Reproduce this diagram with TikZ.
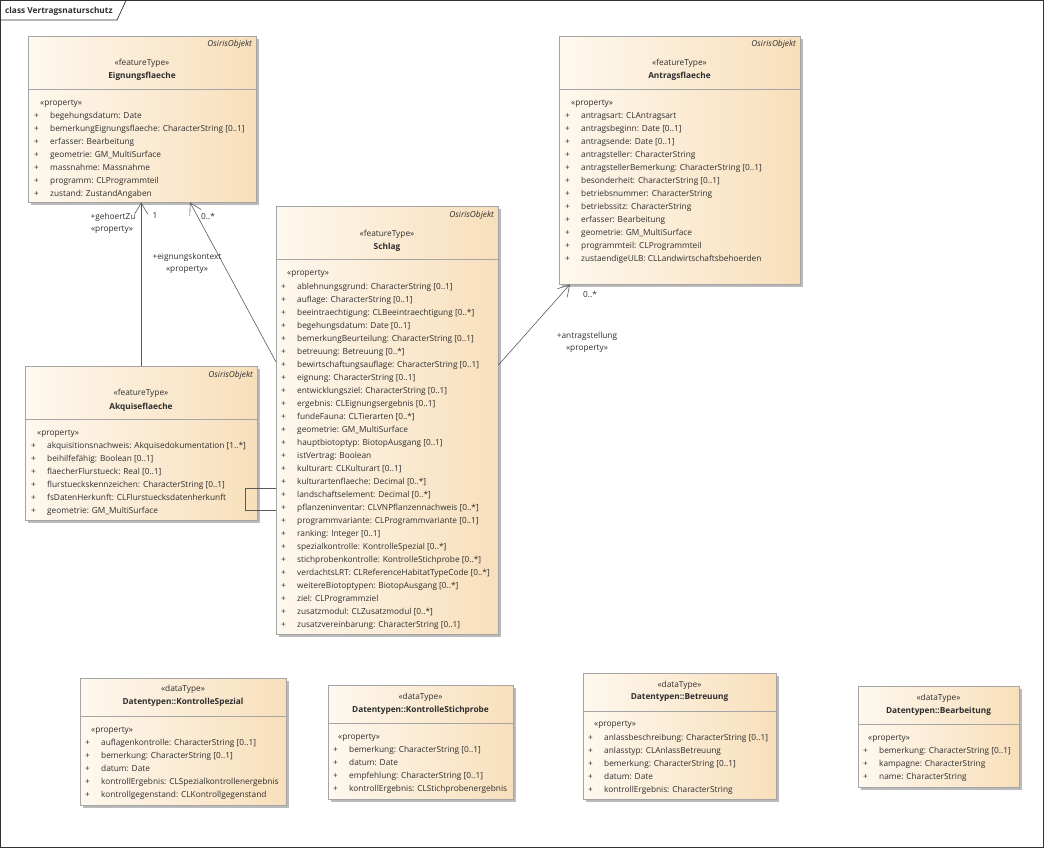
\documentclass[tikz,border=0pt]{standalone}
\usepackage{fontspec}
\setmainfont{Open Sans}
\usetikzlibrary{arrows.meta,shadows}

\definecolor{boxleft}{RGB}{254,248,238}
\definecolor{boxright}{RGB}{248,223,187}
\definecolor{boxline}{RGB}{165,165,165}
\definecolor{ink}{RGB}{45,45,45}

\newcommand{\umlfont}{\fontsize{8.3}{10}\selectfont}

% one row per property: #1 name prefix, #2 x of text, #3 y of first row, #4 rows
\newcommand{\proprows}[4]{%
  \foreach \ptext [count=\prow from 0] in {#4} {
    \node[plus] (#1-p\prow) at (#2-16, #3+13*\prow+3) {+};
    \node[attr] (#1-r\prow) at (#2, #3+13*\prow+3) {\ptext};
  }}

\tikzset{
  classbox/.style={draw=boxline, anchor=north west, inner sep=0pt,
    left color=boxleft, right color=boxright,
    drop shadow={shadow xshift=3pt, shadow yshift=-3pt, fill=black!45, opacity=0.6}},
  divider/.style={draw=boxline},
  attr/.style={anchor=base west, inner sep=0pt, font=\umlfont, text=ink},
  plus/.style={attr},
  stereo/.style={inner sep=0pt, font=\umlfont, text=ink},
  cname/.style={inner sep=0pt, font=\umlfont\bfseries, text=ink},
  osiris/.style={anchor=east, inner sep=0pt, font=\umlfont\itshape, text=ink},
  role/.style={inner sep=0pt, font=\umlfont, text=ink},
  assoc/.style={draw=black!65, line width=0.6pt},
  navig/.style={assoc, -{Straight Barb[length=11pt, width=13pt, line width=0.6pt]}},
}

\begin{document}
\begin{tikzpicture}[x=1pt, y=-1pt]
\useasboundingbox (0,0) rectangle (1045,849);

% frame
\draw[black!80, line width=0.7pt] (0.5,0.5) rectangle (1043.5,847.5);
\draw[black!80, line width=0.7pt] (0.5,20) -- (117,20) -- (126,0.5);
\node[cname, anchor=west] (title) at (5,11) {class Vertragsnaturschutz};

% Eignungsflaeche
\node[classbox, minimum width=228, minimum height=166] (eign) at (28,36) {};
\draw[divider] (28,89) -- (256,89);
\node[osiris] (eign-os) at (252,44) {OsirisObjekt};
\node[stereo] (eign-st) at (142,63) {«featureType»};
\node[cname] (eign-nm) at (142,76) {Eignungsflaeche};
\node[attr] (eign-pr) at (40,105.5) {«property»};
\proprows{eign}{50}{115.5}{begehungsdatum: Date,
  bemerkungEignungsflaeche: CharacterString [0..1],
  erfasser: Bearbeitung, geometrie: GM\_MultiSurface,
  massnahme: Massnahme, programm: CLProgrammteil,
  zustand: ZustandAngaben}

% Akquiseflaeche
\node[classbox, minimum width=232, minimum height=154] (akq) at (25,366) {};
\draw[divider] (25,419) -- (257,419);
\node[osiris] (akq-os) at (253,375) {OsirisObjekt};
\node[stereo] (akq-st) at (141,393) {«featureType»};
\node[cname] (akq-nm) at (141,407) {Akquiseflaeche};
\node[attr] (akq-pr) at (37,435) {«property»};
\proprows{akq}{47}{445}{akquisitionsnachweis: Akquisedokumentation [1..*],
  beihilfefähig: Boolean [0..1], flaecherFlurstueck: Real [0..1],
  flurstueckskennzeichen: CharacterString [0..1],
  fsDatenHerkunft: CLFlurstuecksdatenherkunft,
  geometrie: GM\_MultiSurface}

% Schlag
\node[classbox, minimum width=222, minimum height=428] (schlag) at (276,206) {};
\draw[divider] (276,259) -- (498,259);
\node[osiris] (schlag-os) at (494,215) {OsirisObjekt};
\node[stereo] (schlag-st) at (387,234) {«featureType»};
\node[cname] (schlag-nm) at (387,247) {Schlag};
\node[attr] (schlag-pr) at (287,275) {«property»};
\proprows{schlag}{297}{286}{ablehnungsgrund: CharacterString [0..1],
  auflage: CharacterString [0..1],
  beeintraechtigung: CLBeeintraechtigung [0..*],
  begehungsdatum: Date [0..1],
  bemerkungBeurteilung: CharacterString [0..1],
  betreuung: Betreuung [0..*],
  bewirtschaftungsauflage: CharacterString [0..1],
  eignung: CharacterString [0..1],
  entwicklungsziel: CharacterString [0..1],
  ergebnis: CLEignungsergebnis [0..1],
  fundeFauna: CLTierarten [0..*],
  geometrie: GM\_MultiSurface,
  hauptbiotoptyp: BiotopAusgang [0..1],
  istVertrag: Boolean,
  kulturart: CLKulturart [0..1],
  kulturartenflaeche: Decimal [0..*],
  landschaftselement: Decimal [0..*],
  pflanzeninventar: CLVNPflanzennachweis [0..*],
  programmvariante: CLProgrammvariante [0..1],
  ranking: Integer [0..1],
  spezialkontrolle: KontrolleSpezial [0..*],
  stichprobenkontrolle: KontrolleStichprobe [0..*],
  verdachtsLRT: CLReferenceHabitatTypeCode [0..*],
  weitereBiotoptypen: BiotopAusgang [0..*],
  ziel: CLProgrammziel,
  zusatzmodul: CLZusatzmodul [0..*],
  zusatzvereinbarung: CharacterString [0..1]}

% Antragsflaeche
\node[classbox, minimum width=241, minimum height=248] (antrag) at (559,36) {};
\draw[divider] (559,89) -- (800,89);
\node[osiris] (antrag-os) at (796,44) {OsirisObjekt};
\node[stereo] (antrag-st) at (679.5,63) {«featureType»};
\node[cname] (antrag-nm) at (679.5,76) {Antragsflaeche};
\node[attr] (antrag-pr) at (571,105) {«property»};
\proprows{antrag}{581}{115}{antragsart: CLAntragsart,
  antragsbeginn: Date [0..1], antragsende: Date [0..1],
  antragsteller: CharacterString,
  antragstellerBemerkung: CharacterString [0..1],
  besonderheit: CharacterString [0..1],
  betriebsnummer: CharacterString, betriebssitz: CharacterString,
  erfasser: Bearbeitung, geometrie: GM\_MultiSurface,
  programmteil: CLProgrammteil,
  zustaendigeULB: CLLandwirtschaftsbehoerden}

% Datentypen::KontrolleSpezial
\node[classbox, minimum width=206, minimum height=127] (spez) at (80,678) {};
\draw[divider] (80,716) -- (286,716);
\node[stereo] (spez-st) at (183,689) {«dataType»};
\node[cname] (spez-nm) at (183,702) {Datentypen::KontrolleSpezial};
\node[attr] (spez-pr) at (91,732) {«property»};
\proprows{spez}{101}{742}{auflagenkontrolle: CharacterString [0..1],
  bemerkung: CharacterString [0..1], datum: Date,
  kontrollErgebnis: CLSpezialkontrollenergebnis,
  kontrollgegenstand: CLKontrollgegenstand}

% Datentypen::KontrolleStichprobe
\node[classbox, minimum width=185, minimum height=114] (stich) at (328,685) {};
\draw[divider] (328,723) -- (513,723);
\node[stereo] (stich-st) at (420.5,697) {«dataType»};
\node[cname] (stich-nm) at (420.5,710) {Datentypen::KontrolleStichprobe};
\node[attr] (stich-pr) at (338,739) {«property»};
\proprows{stich}{349}{749}{bemerkung: CharacterString [0..1],
  datum: Date, empfehlung: CharacterString [0..1],
  kontrollErgebnis: CLStichprobenergebnis}

% Datentypen::Betreuung
\node[classbox, minimum width=193, minimum height=126] (betr) at (583,673) {};
\draw[divider] (583,711) -- (776,711);
\node[stereo] (betr-st) at (679.5,685) {«dataType»};
\node[cname] (betr-nm) at (679.5,698) {Datentypen::Betreuung};
\node[attr] (betr-pr) at (594,726) {«property»};
\proprows{betr}{604}{737}{anlassbeschreibung: CharacterString [0..1],
  anlasstyp: CLAnlassBetreuung, bemerkung: CharacterString [0..1],
  datum: Date, kontrollErgebnis: CharacterString}

% Datentypen::Bearbeitung
\node[classbox, minimum width=161, minimum height=101] (bearb) at (858,686) {};
\draw[divider] (858,724) -- (1019,724);
\node[stereo] (bearb-st) at (938.5,698) {«dataType»};
\node[cname] (bearb-nm) at (938.5,711) {Datentypen::Bearbeitung};
\node[attr] (bearb-pr) at (868,740) {«property»};
\proprows{bearb}{879}{750}{bemerkung: CharacterString [0..1],
  kampagne: CharacterString, name: CharacterString}

% associations
\draw[navig] (akq.north) -- (akq.north |- eign.south);
\node[role] (gehoert) at (113,217) {+gehoertZu};
\node[role] (gehoert-st) at (112,230) {«property»};
\node[role] (gehoert-m) at (155,216) {1};

\draw[navig] (schlag.west |- 0,362) -- (eign.south -| 190,0);
\node[role] (eignk-m) at (208,216) {0..*};
\node[role] (eignk) at (187,257) {+eignungskontext};
\node[role] (eignk-st) at (187,270) {«property»};

\draw[navig] (schlag.east |- 0,365) -- ([xshift=11pt]antrag.south west);
\node[role] (antr-m) at (590,294) {0..*};
\node[role] (antr) at (587,336) {+antragstellung};
\node[role] (antr-st) at (587,349) {«property»};

\draw[assoc] (schlag.west |- 0,488) -| (245,510) -- (schlag.west |- 0,510);
\end{tikzpicture}
\end{document}
